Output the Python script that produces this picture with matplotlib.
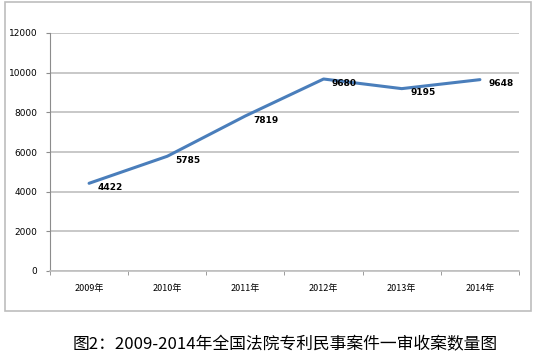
import matplotlib
matplotlib.use('Agg')
from matplotlib import pyplot as plt
from matplotlib.patches import Rectangle

plt.rcParams['font.family'] = ['Noto Sans CJK SC', 'DejaVu Sans']

years = ['2009年', '2010年', '2011年', '2012年', '2013年', '2014年']
cases = [4422, 5785, 7819, 9680, 9195, 9648]
yticks = [0, 2000, 4000, 6000, 8000, 10000, 12000]
caption = '图2：2009-2014年全国法院专利民事案件一审收案数量图'

fig = plt.figure(figsize=(5.35, 3.57), dpi=100)
W, H = 535, 357

# outer chart frame
fig.patches.append(Rectangle((5 / W, 1 - 311 / H), 526 / W, 309 / H,
                             transform=fig.transFigure, fill=False,
                             edgecolor='#bdbdbd', linewidth=1.2))

ax = fig.add_axes([50 / W, 1 - 271 / H, 469 / W, 238 / H])
x = list(range(len(years)))
ax.plot(x, cases, color='#4a7ebb', linewidth=2.2, solid_capstyle='round')
for xi, v in zip(x, cases):
    ax.annotate(str(v), (xi, v), xytext=(6, -3), textcoords='offset points',
                ha='left', va='center', fontsize=6.5, fontweight='bold',
                family='DejaVu Sans')

ax.set_xlim(-0.5, len(years) - 0.5)
ax.set_ylim(0, 12000)
ax.set_yticks(yticks)
ax.set_yticklabels([str(t) for t in yticks], fontsize=6.5, family='DejaVu Sans')
ax.set_xticks(x)
ax.set_xticklabels(years, fontsize=6.5)
ax.set_xticks([i - 0.5 for i in range(len(years) + 1)], minor=True)
ax.tick_params(axis='x', which='major', length=0, pad=9)
ax.tick_params(axis='x', which='minor', length=3, color='#8c8c8c')
ax.tick_params(axis='y', length=3, color='#8c8c8c', pad=6)
ax.grid(axis='y', color='#bfbfbf', linewidth=1.2)
ax.set_axisbelow(True)
for s in ['top', 'right']:
    ax.spines[s].set_visible(False)
ax.spines['left'].set_color('#8c8c8c')
ax.spines['bottom'].set_color('#bfbfbf')
ax.spines['bottom'].set_linewidth(1.2)

fig.text(285 / W, 1 - 345 / H, caption, ha='center', va='center', fontsize=12.1)

fig.savefig('out.png', dpi=100)
